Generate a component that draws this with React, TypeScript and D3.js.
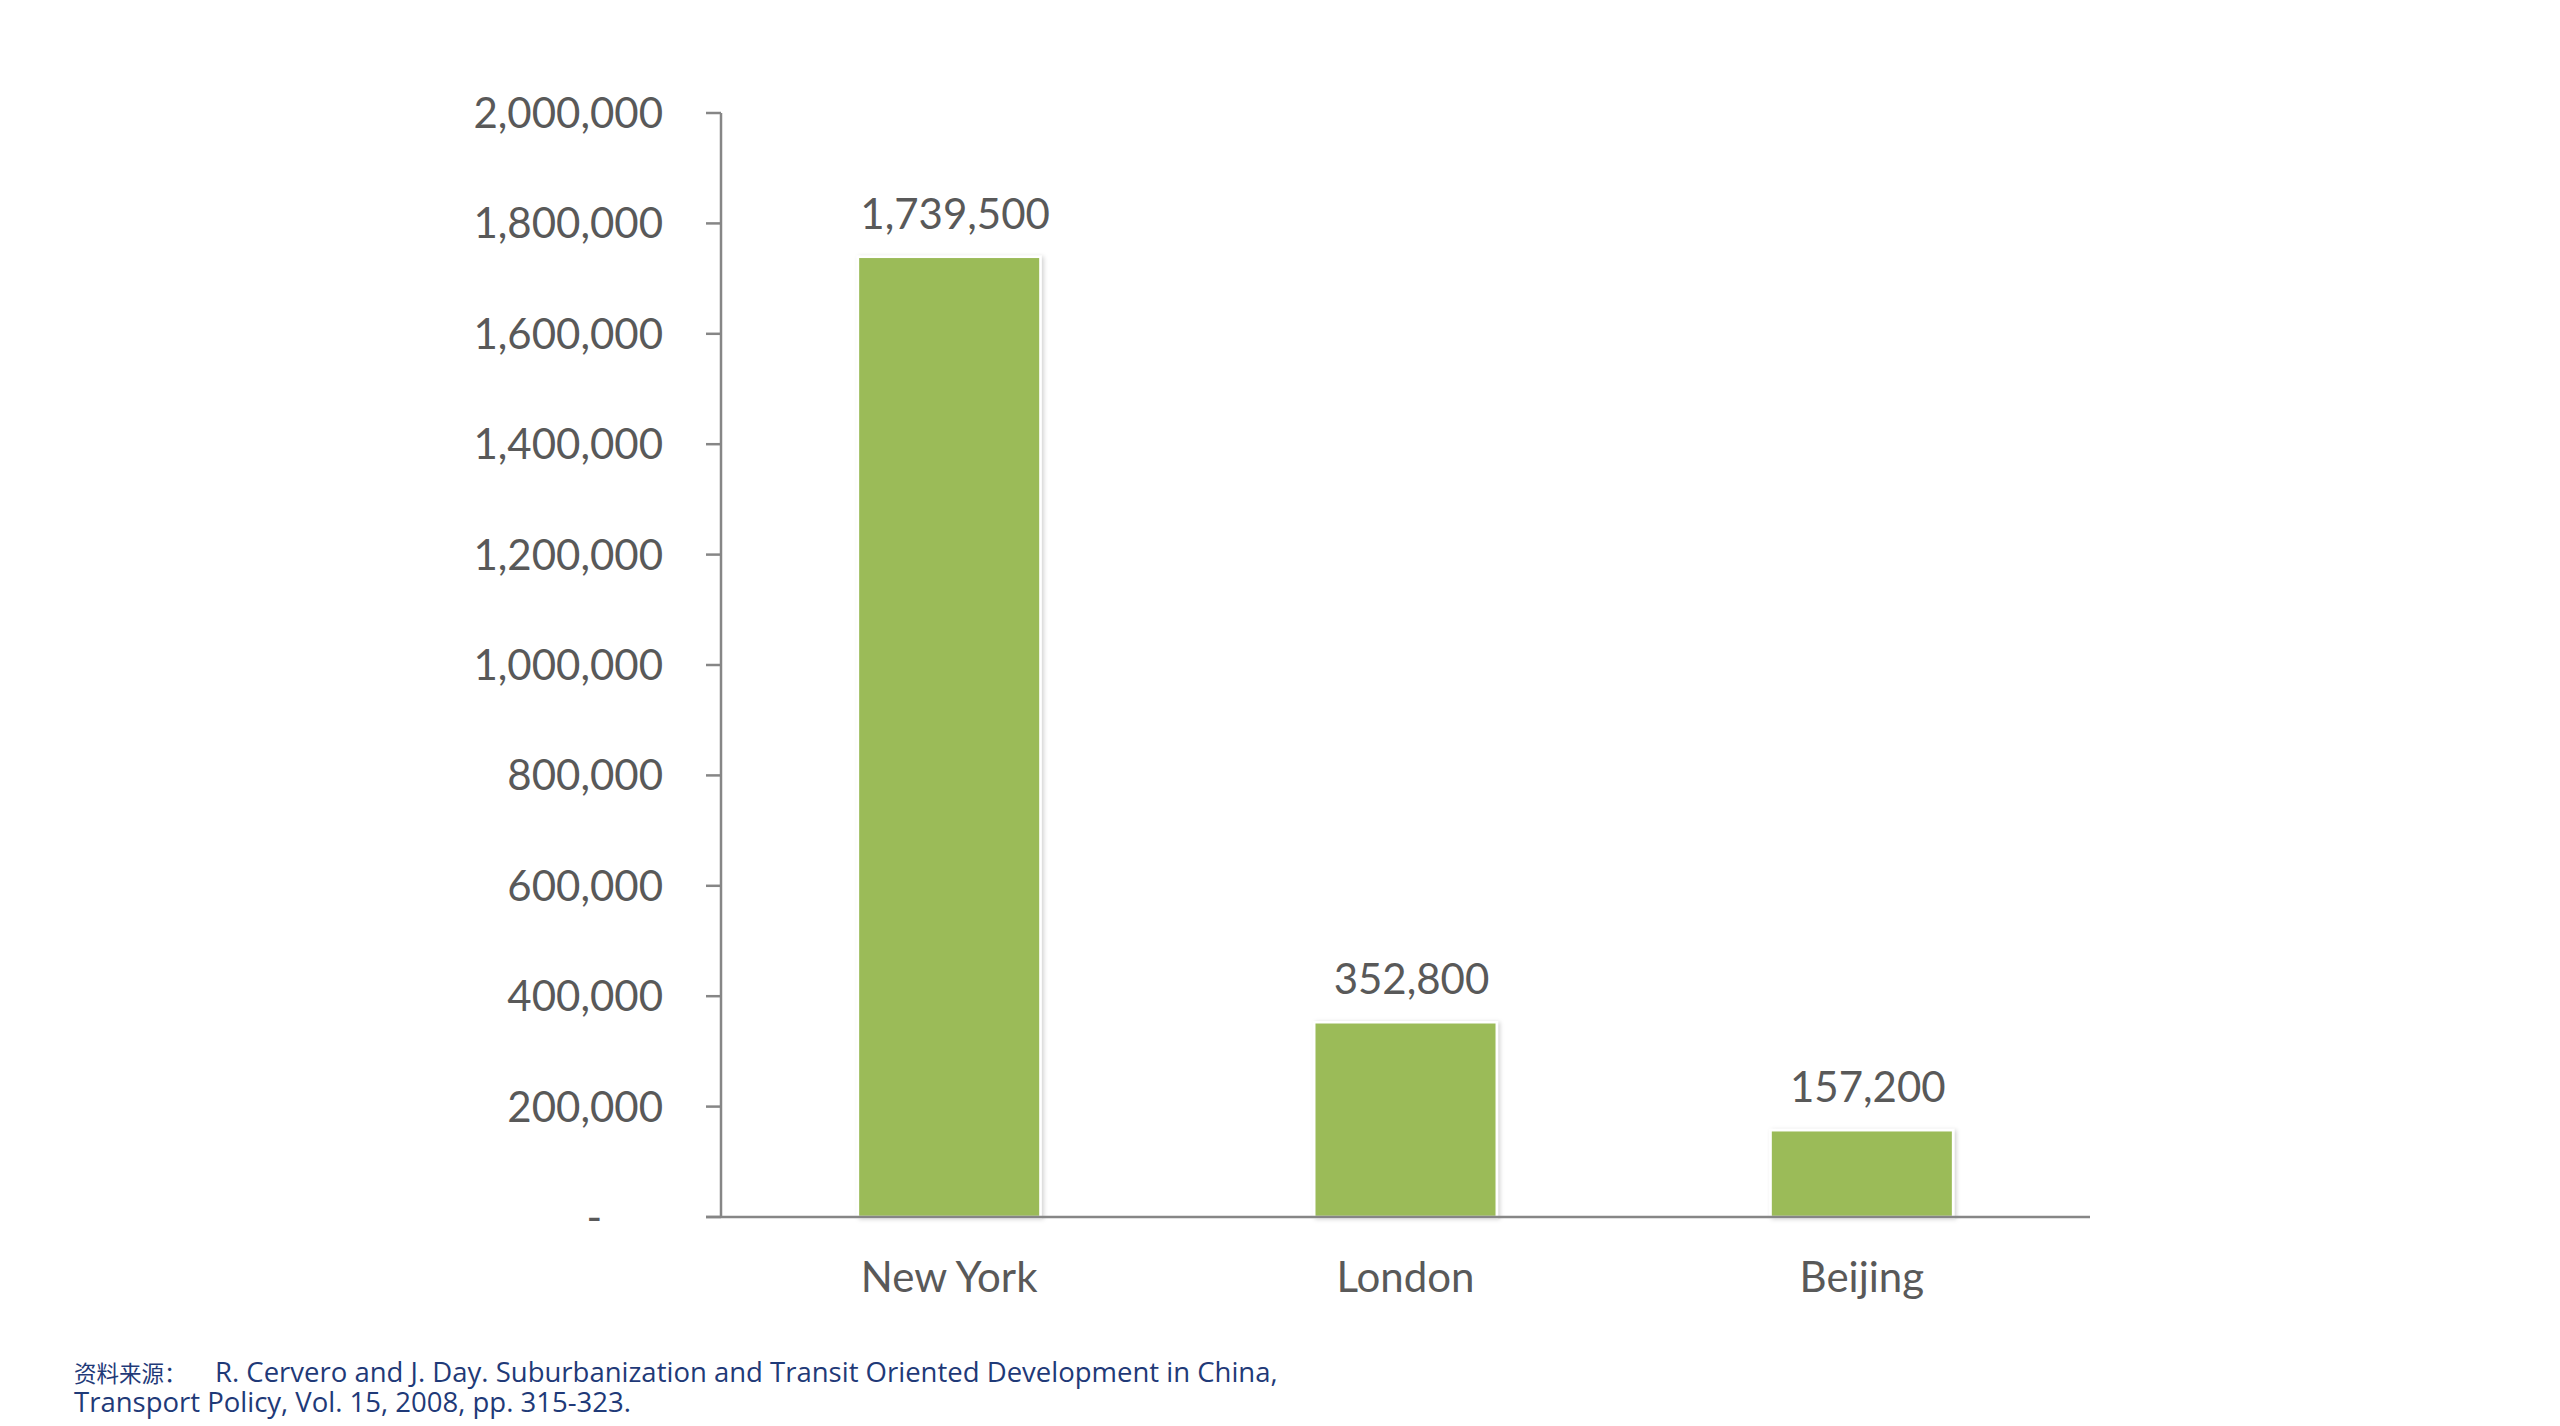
import React from "react";
import * as d3 from "d3";

const categories = ["New York", "London", "Beijing"];
const values = [1739500, 352800, 157200];
const yTicks = [0, 200000, 400000, 600000, 800000, 1000000, 1200000, 1400000, 1600000, 1800000, 2000000];
const footnotePrefix = "资料来源：";
const footnoteLines = [
  "R. Cervero and J. Day. Suburbanization and Transit Oriented Development in China,",
  "Transport Policy, Vol. 15, 2008, pp. 315-323.",
];

const W = 2560;
const H = 1426;
const FONT = "Lato, 'Noto Sans CJK SC', sans-serif";
const FOOT_FONT = "'Open Sans', 'Noto Sans CJK SC', sans-serif";
const TEXT = "#595959";
const AXIS = "#868686";
const BAR = "#9BBB59";
const FOOT = "#1F3A78";

export default function App() {
  const y = d3.scaleLinear().domain([0, 2000000]).range([1217, 113]);
  const x = d3.scaleBand<string>().domain(categories).range([721, 2090]).padding(0);
  const bw = x.bandwidth() * 0.4;
  const fmt = d3.format(",");
  const axisX = x.range()[0];
  const axisRight = x.range()[1];

  return (
    <svg
      width={W}
      height={H}
      viewBox={`0 0 ${W} ${H}`}
      style={{ position: "absolute", left: 0, top: 0, background: "#fff" }}
    >
      <defs>
        <filter id="sh" x="-10%" y="-10%" width="120%" height="120%">
          <feDropShadow dx="2" dy="1" stdDeviation="2" floodColor="#000" floodOpacity="0.18" />
        </filter>
      </defs>
      <rect x={0} y={0} width={W} height={H} fill="#fff" />

      {/* bars */}
      {categories.map((c, i) => {
        const cx = (x(c) as number) + x.bandwidth() / 2;
        return (
          <g key={c}>
            <rect
              x={cx - bw / 2}
              y={y(values[i])}
              width={bw}
              height={y(0) - y(values[i])}
              fill={BAR}
              stroke="#fff"
              strokeWidth={2.5}
              filter="url(#sh)"
            />
            <text
              x={cx + 6}
              y={y(values[i]) - 28}
              textAnchor="middle"
              fontFamily={FONT}
              fontSize={42}
              fill={TEXT}
            >
              {fmt(values[i])}
            </text>
            <text
              x={cx}
              y={1292}
              textAnchor="middle"
              fontFamily={FONT}
              fontSize={42}
              fill={TEXT}
            >
              {c}
            </text>
          </g>
        );
      })}

      {/* y axis */}
      <line x1={axisX} x2={axisX} y1={y(2000000)} y2={y(0)} stroke={AXIS} strokeWidth={2.5} />
      {yTicks.map((t) => (
        <g key={t}>
          <line x1={axisX - 15} x2={axisX} y1={y(t)} y2={y(t)} stroke={AXIS} strokeWidth={2.5} />
          <text
            x={663}
            dx={t === 0 ? -61 : 0}
            y={y(t) + 15}
            textAnchor="end"
            fontFamily={FONT}
            fontSize={42}
            fill={TEXT}
          >
            {t === 0 ? "-" : fmt(t)}
          </text>
        </g>
      ))}

      {/* x axis */}
      <line x1={axisX - 15} x2={axisRight} y1={y(0)} y2={y(0)} stroke={AXIS} strokeWidth={2.5} />

      {/* footnote */}
      <text fontFamily={FOOT_FONT} fill={FOOT}>
        <tspan x={74} y={1382} fontSize={22.5}>
          {footnotePrefix}
        </tspan>
        <tspan x={215} y={1382} fontSize={27.5}>
          {footnoteLines[0]}
        </tspan>
        <tspan x={74} y={1412} fontSize={27.5}>
          {footnoteLines[1]}
        </tspan>
      </text>
    </svg>
  );
}
